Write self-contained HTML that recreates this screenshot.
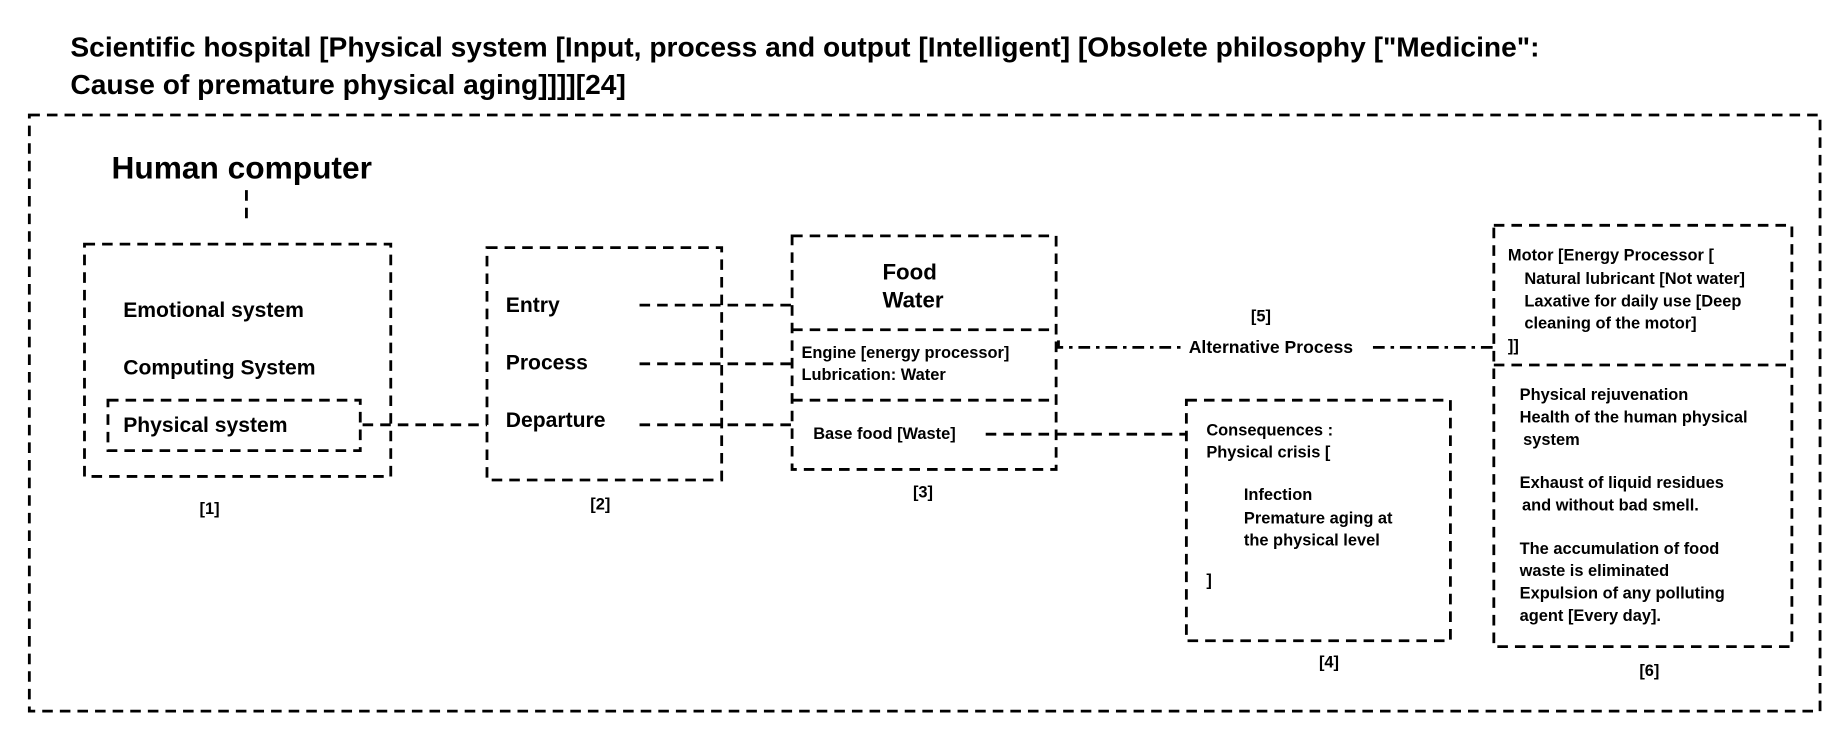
<!DOCTYPE html>
<html><head><meta charset="utf-8"><style>
html,body{margin:0;padding:0;background:#fff;}
svg{display:block;}
text{font-family:"Liberation Sans",Arial,sans-serif;font-weight:bold;fill:#000;}
</style></head><body>
<svg width="1840" height="733" viewBox="0 0 1568 624.6" xmlns="http://www.w3.org/2000/svg">
<g font-size="24">
<text x="60" y="48">Scientific hospital [Physical system [Input, process and output [Intelligent] [Obsolete philosophy ["Medicine":</text>
<text x="60" y="80">Cause of premature physical aging]]]][24]</text>
</g>
<g fill="none" stroke="#000" stroke-width="2.4" stroke-dasharray="9,6">
<rect x="25" y="98" width="1526" height="508"/>
<line x1="210" y1="162" x2="210" y2="192"/>
<rect x="72" y="208" width="261" height="198"/>
<rect x="92" y="341" width="215" height="43"/>
<line x1="309" y1="362" x2="415" y2="362"/>
<rect x="415" y="211" width="200" height="198"/>
<line x1="545" y1="260" x2="675" y2="260"/>
<line x1="545" y1="310" x2="675" y2="310"/>
<line x1="545" y1="362" x2="675" y2="362"/>
<rect x="675" y="201" width="225" height="199"/>
<line x1="675" y1="281" x2="900" y2="281"/>
<line x1="675" y1="341" x2="900" y2="341"/>
<line x1="840" y1="370" x2="1012" y2="370"/>
<rect x="1011" y="341" width="225" height="205"/>
<rect x="1273" y="192" width="254" height="359"/>
<line x1="1273" y1="311" x2="1527" y2="311"/>
</g>
<g fill="none" stroke="#000" stroke-width="2.4" stroke-dasharray="10,5,3,5">
<polyline points="902,290 902,296 1006,296"/>
<line x1="1170" y1="296" x2="1272" y2="296"/>
</g>
<text x="95" y="152" font-size="27">Human computer</text>
<g font-size="18">
<text x="105" y="270">Emotional system</text>
<text x="105" y="319">Computing System</text>
<text x="105" y="368">Physical system</text>
<text x="431" y="266">Entry</text>
<text x="431" y="315">Process</text>
<text x="431" y="364">Departure</text>
</g>
<g font-size="19">
<text x="752" y="238">Food</text>
<text x="752" y="262">Water</text>
</g>
<g font-size="14">
<text x="170" y="438">[1]</text>
<text x="503" y="434">[2]</text>
<text x="778" y="424">[3]</text>
<text x="1066" y="274">[5]</text>
<text x="1124" y="569">[4]</text>
<text x="1397" y="576">[6]</text>
<text x="683" y="305">Engine [energy processor]</text>
<text x="683" y="324">Lubrication: Water</text>
<text x="693" y="374">Base food [Waste]</text>
<text x="1013" y="301" font-size="15">Alternative Process</text>
<text x="1028" y="371">Consequences :</text>
<text x="1028" y="390">Physical crisis [</text>
<text x="1060" y="426">Infection</text>
<text x="1060" y="446">Premature aging at</text>
<text x="1060" y="465">the physical level</text>
<text x="1028" y="499">]</text>
<text x="1285" y="222">Motor [Energy Processor [</text>
<text x="1299" y="242">Natural lubricant [Not water]</text>
<text x="1299" y="261">Laxative for daily use [Deep</text>
<text x="1299" y="280">cleaning of the motor]</text>
<text x="1285" y="299">]]</text>
<text x="1295" y="341">Physical rejuvenation</text>
<text x="1295" y="360">Health of the human physical</text>
<text x="1298" y="379">system</text>
<text x="1295" y="416">Exhaust of liquid residues</text>
<text x="1297" y="435">and without bad smell.</text>
<text x="1295" y="472">The accumulation of food</text>
<text x="1295" y="491">waste is eliminated</text>
<text x="1295" y="510">Expulsion of any polluting</text>
<text x="1295" y="529">agent [Every day].</text>
</g>
</svg>
</body></html>
